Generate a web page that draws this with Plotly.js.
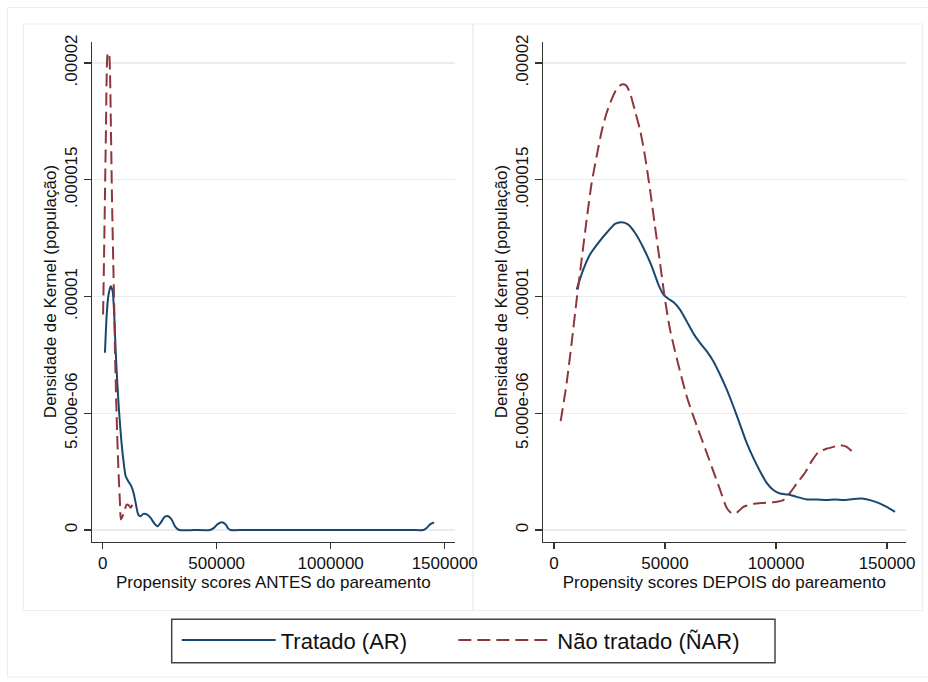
<!DOCTYPE html>
<html>
<head>
<meta charset="utf-8">
<script src="https://cdn.plot.ly/plotly-3.0.1.min.js"></script>
<style>html,body{margin:0;padding:0;background:#fff;overflow:hidden;}#chart{width:928px;height:682px;}</style>
</head>
<body>
<div id="chart"></div>
<script>
// ---- Data ----
// Left panel: BEFORE matching
const antesTratadoX = [10088, 17400, 24700, 34950, 43700, 51000, 56900, 64200, 71500, 80300, 90500, 100700, 112400, 127100, 137300, 146100, 156300, 166500, 178200, 195700, 210400, 226500, 239600, 254300, 273200, 287900, 302500, 317100, 336100, 400000, 470600, 488200, 502800, 521800, 539300, 551000, 561300, 620000, 800000, 1000000, 1200000, 1350000, 1406300, 1420900, 1435500, 1453100];
const antesTratadoY = [7.59e-6, 9.16e-6, 1.001e-5, 1.044e-5, 1.023e-5, 9.16e-6, 7.73e-6, 6.30e-6, 5.16e-6, 4.02e-6, 3.02e-6, 2.31e-6, 2.09e-6, 1.85e-6, 1.52e-6, 1.09e-6, 0.66e-6, 0.59e-6, 0.69e-6, 0.66e-6, 0.52e-6, 0.28e-6, 0.16e-6, 0.31e-6, 0.57e-6, 0.59e-6, 0.45e-6, 0.16e-6, 0, 0, 0, 0.09e-6, 0.24e-6, 0.33e-6, 0.24e-6, 0.06e-6, 0, 0, 0, 0, 0, 0, 0, 0.09e-6, 0.24e-6, 0.33e-6];
const antesNaoX = [2000, 5700, 10100, 14500, 17400, 21800, 27600, 32000, 36400, 40800, 46600, 51000, 54000, 61300, 68600, 75900, 80300, 93400, 105100, 115300, 122600, 131400, 135000];
const antesNaoY = [9.23e-6, 1.144e-5, 1.43e-5, 1.715e-5, 1.93e-5, 2.037e-5, 2.044e-5, 1.97e-5, 1.715e-5, 1.43e-5, 1.144e-5, 9.44e-6, 7.7e-6, 4.87e-6, 2.73e-6, 1.16e-6, 0.45e-6, 0.74e-6, 1.09e-6, 1.05e-6, 0.95e-6, 1.09e-6, 1.1e-6];

// Right panel: AFTER matching
const depoisTratadoX = [10210, 13213, 16216, 19970, 23724, 27477, 30480, 33483, 36486, 40240, 43994, 46997, 49249, 51501, 53754, 56757, 59760, 62763, 65766, 68769, 71772, 74775, 77778, 80781, 83784, 86787, 89790, 92793, 95796, 98799, 101802, 105556, 109310, 113814, 118318, 122823, 126577, 130330, 134835, 138588, 142342, 146096, 149850, 153604];
const depoisTratadoY = [1.030e-5, 1.116e-5, 1.180e-5, 1.230e-5, 1.273e-5, 1.311e-5, 1.318e-5, 1.308e-5, 1.273e-5, 1.209e-5, 1.130e-5, 1.052e-5, 1.009e-5, 0.990e-5, 0.976e-5, 0.944e-5, 0.894e-5, 0.842e-5, 0.801e-5, 0.766e-5, 0.723e-5, 0.666e-5, 0.602e-5, 0.530e-5, 0.452e-5, 0.373e-5, 0.309e-5, 0.252e-5, 0.202e-5, 0.171e-5, 0.156e-5, 0.152e-5, 0.142e-5, 0.131e-5, 0.131e-5, 0.128e-5, 0.131e-5, 0.128e-5, 0.133e-5, 0.135e-5, 0.128e-5, 0.116e-5, 0.099e-5, 0.078e-5];
const depoisNaoX = [3003, 5706, 7958, 10210, 12462, 14715, 16967, 19219, 21471, 23724, 25976, 28228, 30480, 32432, 34234, 36486, 38739, 40991, 43243, 45495, 47748, 50000, 52252, 54505, 56757, 59760, 62763, 65766, 68769, 71772, 74775, 77778, 80030, 82282, 85285, 89790, 94294, 98799, 103303, 106306, 109309, 113063, 116066, 119069, 122823, 125826, 128829, 131832, 134084];
const depoisNaoY = [0.466e-5, 0.630e-5, 0.802e-5, 0.987e-5, 1.159e-5, 1.330e-5, 1.487e-5, 1.601e-5, 1.708e-5, 1.787e-5, 1.844e-5, 1.889e-5, 1.908e-5, 1.904e-5, 1.872e-5, 1.794e-5, 1.715e-5, 1.601e-5, 1.458e-5, 1.301e-5, 1.144e-5, 0.987e-5, 0.859e-5, 0.766e-5, 0.680e-5, 0.573e-5, 0.488e-5, 0.409e-5, 0.331e-5, 0.252e-5, 0.173e-5, 0.095e-5, 0.071e-5, 0.074e-5, 0.099e-5, 0.112e-5, 0.116e-5, 0.119e-5, 0.128e-5, 0.159e-5, 0.199e-5, 0.245e-5, 0.295e-5, 0.333e-5, 0.348e-5, 0.356e-5, 0.363e-5, 0.356e-5, 0.338e-5];

const seriesNames = ["Tratado (AR)", "Não tratado (ÑAR)"];
const yTickVals = [0, 5e-6, 1e-5, 1.5e-5, 2e-5];
const yTickText = ["0", "5.000e-06", ".00001", ".000015", ".00002"];
const xTickValsAntes = [0, 500000, 1000000, 1500000];
const xTickValsDepois = [0, 50000, 100000, 150000];
const yTitle = "Densidade de Kernel (população)";
const xTitleAntes = "Propensity scores ANTES do pareamento";
const xTitleDepois = "Propensity scores DEPOIS do pareamento";

// ---- Styling ----
const NAVY = "#1a476f", MAROON = "#90353b";
const FONT = "Liberation Sans, Arial, Helvetica, sans-serif";
const W = 928, H = 682;
const px = v => v / W, py = v => 1 - v / H;

const solid = {color: NAVY, width: 2, shape: "spline", smoothing: 0.6};
const dashed = {color: MAROON, width: 2, dash: "13px,6px", shape: "spline", smoothing: 0.6};

const traces = [
  {x: antesTratadoX, y: antesTratadoY, xaxis: "x", yaxis: "y", mode: "lines", name: seriesNames[0], line: solid, legend: "legend"},
  {x: antesNaoX, y: antesNaoY, xaxis: "x", yaxis: "y", mode: "lines", name: seriesNames[1], line: dashed, legend: "legend2"},
  {x: depoisTratadoX, y: depoisTratadoY, xaxis: "x2", yaxis: "y2", mode: "lines", name: seriesNames[0], line: solid, showlegend: false},
  {x: depoisNaoX, y: depoisNaoY, xaxis: "x2", yaxis: "y2", mode: "lines", name: seriesNames[1], line: dashed, showlegend: false}
];

const yDom = [py(541.5), py(41.5)];
const yRange = [-0.000000492, 0.00002092];
function yAxis(anchor) {
  return {
    anchor: anchor, domain: yDom, range: yRange,
    tickmode: "array", tickvals: yTickVals, ticktext: yTickText, tickangle: -90,
    ticks: "outside", ticklen: 7, tickcolor: "#333", tickwidth: 1.2,
    showline: true, linecolor: "#333", linewidth: 1.2,
    showgrid: true, gridcolor: "#e6eef1", gridwidth: 1.2, zeroline: false,
    tickfont: {family: FONT, size: 17, color: "#111"},
    title: {text: yTitle, font: {family: FONT, size: 17, color: "#111"}, standoff: 0},
    fixedrange: true
  };
}
function xAxis(anchor, dom, range, vals, title) {
  return {
    anchor: anchor, domain: dom, range: range,
    tickmode: "array", tickvals: vals, ticktext: vals.map(String),
    ticks: "outside", ticklen: 6, tickcolor: "#333", tickwidth: 1.2,
    showline: true, linecolor: "#333", linewidth: 1.2,
    showgrid: false, zeroline: false,
    tickfont: {family: FONT, size: 17, color: "#111"},
    title: {text: title, font: {family: FONT, size: 17, color: "#111"}, standoff: 0},
    fixedrange: true
  };
}

function legendAt(xPix) {
  return {
    orientation: "h", x: px(xPix), xanchor: "left", y: py(619.3), yanchor: "top",
    borderwidth: 0, bgcolor: "rgba(0,0,0,0)",
    font: {family: FONT, size: 22, color: "#111"},
    itemwidth: 94, itemclick: false, itemdoubleclick: false
  };
}

const frame = "#e9eff2";
const layout = {
  width: W, height: H,
  margin: {l: 0, r: 0, t: 0, b: 0},
  paper_bgcolor: "#ffffff", plot_bgcolor: "rgba(0,0,0,0)",
  font: {family: FONT, color: "#111"},
  xaxis: xAxis("y", [px(91.7), px(455)], [-48000, 1545000], xTickValsAntes, xTitleAntes),
  yaxis: yAxis("x"),
  xaxis2: xAxis("y2", [px(542.7), px(906)], [-5090, 158560], xTickValsDepois, xTitleDepois),
  yaxis2: yAxis("x2"),
  showlegend: true,
  legend: legendAt(176.7),
  legend2: legendAt(453.3),
  shapes: [
    {type: "rect", xref: "paper", yref: "paper", x0: px(7.5), x1: px(935), y0: py(677), y1: py(7.5), line: {color: frame, width: 1.2}, layer: "below"},
    {type: "rect", xref: "paper", yref: "paper", x0: px(23.3), x1: px(473), y0: py(610.5), y1: py(24), line: {color: frame, width: 1.2}, layer: "below"},
    {type: "rect", xref: "paper", yref: "paper", x0: px(473), x1: px(922.7), y0: py(610.5), y1: py(24), line: {color: frame, width: 1.2}, layer: "below"},
    {type: "rect", xref: "paper", yref: "paper", x0: px(171.7), x1: px(775), y0: py(662.7), y1: py(619.3), line: {color: "#444", width: 1.5}, fillcolor: "#ffffff", layer: "below"}
  ]
};

Plotly.newPlot("chart", traces, layout, {displayModeBar: false, staticPlot: true});
</script>
</body>
</html>
